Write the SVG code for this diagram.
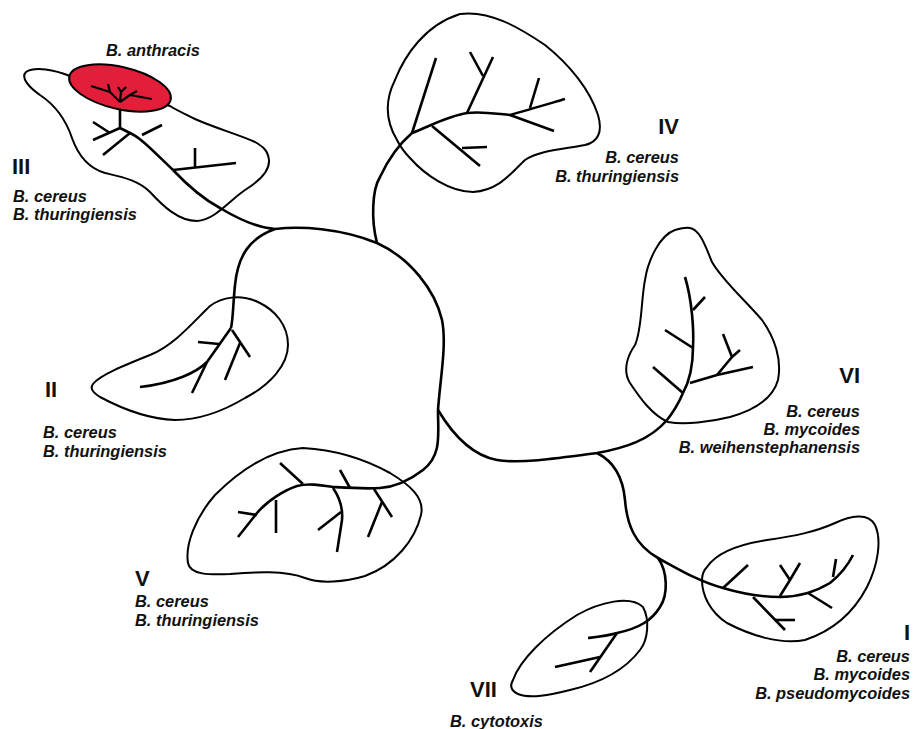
<svg xmlns="http://www.w3.org/2000/svg" width="914" height="729" viewBox="0 0 914 729">
<style>
.ol{fill:none;stroke:#000;stroke-width:2;stroke-linejoin:round}
.tr{fill:none;stroke:#000;stroke-width:2.6;stroke-linecap:butt;stroke-linejoin:round}
.sp{font-family:"Liberation Sans",Arial,sans-serif;font-weight:bold;font-style:italic;font-size:16.4px;fill:#111}
.num{font-family:"Liberation Sans",Arial,sans-serif;font-weight:bold;font-size:22px;fill:#111}
</style>
<rect width="914" height="729" fill="#fff"/>
<g id="connectors" class="tr">
<path d="M173,170 C190,188 205,200 220,208 C240,220 258,228 275,229"/>
<path d="M275,229 C250,238 238,255 235,285 C233,305 233,320 231,328"/>
<path d="M275,229 C300,226 340,228 377,243 C410,258 435,290 442,320 C447,345 440,380 438,410 C438,435 442,455 423,470 C410,480 395,487 380,488"/>
<path d="M377,243 C371,220 372,190 380,177 C387,162 398,145 412,133"/>
<path d="M438,410 C450,430 470,455 497,460 C520,464 560,458 597,453 C625,448 650,440 667,420 C675,410 680,400 683,393"/>
<path d="M597,453 C615,462 623,478 625,500 C627,525 635,545 658,558 C680,570 700,582 723,588"/>
<path d="M658,558 C668,572 668,595 660,607 C652,620 640,628 617,633"/>
</g>
<g id="cluster-III">
<path class="ol" d="M70,76 C55,70 35,66 26,72 C20,78 30,88 40,95 C55,105 66,120 72,138 C78,155 88,168 105,173 C122,177 138,180 150,192 C162,205 178,221 197,221 C215,220 230,200 245,190 C258,182 270,172 269,160 C268,150 262,146 255,142 C240,135 215,128 195,119 C185,114 178,111 170,106 Z"/>
<g class="tr">
<path d="M120,102 L120,128 L128,132 C140,137 150,148 173,170"/>
<path d="M93,140 L120,128"/>
<path d="M93,122 L110,133"/>
<path d="M103,155 L130,133"/>
<path d="M142,135 L162,125"/>
<path d="M173,170 L236,163"/>
<path d="M195,148 L195,167"/>
</g>
<g id="anthracis">
<ellipse cx="120" cy="88" rx="52" ry="21" transform="rotate(13 120 88)" fill="#e31e3a" stroke="#000" stroke-width="2"/>
<g class="tr" style="stroke-width:2.2">
<path d="M120,102 L110,92 L91,86"/>
<path d="M108,84 L110,92"/>
<path d="M120,102 L121,92 L118,87"/>
<path d="M121,92 L126,87"/>
<path d="M120,102 L130,95 L152,99"/>
<path d="M130,95 L137,91"/>
</g>
</g>
<text class="sp" x="106" y="56">B. anthracis</text>
<text class="num" x="12" y="174">III</text>
<text class="sp" x="13" y="202">B. cereus</text>
<text class="sp" x="13" y="220">B. thuringiensis</text>
</g>
<g id="cluster-IV">
<path class="ol" d="M397,140 C385,120 385,100 395,80 C405,55 425,25 460,14 C490,10 520,28 545,45 C570,65 590,90 598,115 C603,132 598,142 585,145 C565,149 540,150 525,160 C512,172 500,190 473,192 C450,192 425,175 410,158 C404,152 400,146 397,140 Z"/>
<g class="tr">
<path d="M412,133 C430,126 448,116 467,113 C482,111 498,114 510,115 C528,110 548,104 565,99"/>
<path d="M412,133 L436,58"/>
<path d="M432,126 L480,166"/>
<path d="M462,148 L487,147"/>
<path d="M467,113 L493,57"/>
<path d="M483,76 L470,52"/>
<path d="M510,115 L554,131"/>
<path d="M530,108 L539,78"/>
</g>
<text class="num" x="679" y="134" text-anchor="end">IV</text>
<text class="sp" x="679" y="163" text-anchor="end">B. cereus</text>
<text class="sp" x="679" y="182" text-anchor="end">B. thuringiensis</text>
</g>
<g id="cluster-II">
<path class="ol" d="M93,384 C100,375 125,365 150,355 C175,345 195,320 210,306 C222,297 240,294 258,302 C275,310 288,325 288,345 C288,365 270,385 245,398 C225,410 200,420 175,420 C145,419 115,405 100,397 C92,392 90,388 93,384 Z"/>
<g class="tr">
<path d="M231,328 L207,362 C197,372 175,383 140,387"/>
<path d="M198,342 L219,344"/>
<path d="M207,362 L192,393"/>
<path d="M232,330 L250,357"/>
<path d="M240,343 L225,380"/>
</g>
<text class="num" x="45" y="397">II</text>
<text class="sp" x="43" y="438">B. cereus</text>
<text class="sp" x="43" y="457">B. thuringiensis</text>
</g>
<g id="cluster-V">
<path class="ol" d="M303,448 C270,450 240,470 215,495 C195,518 185,545 188,563 C190,575 210,575 230,574 C255,572 285,570 305,578 C320,584 345,582 365,576 C395,565 415,540 421,515 C425,498 410,485 390,473 C370,462 340,450 303,448 Z"/>
<g class="tr">
<path d="M380,488 C365,489 350,488 333,487 C320,485 308,483 297,486 C285,490 268,500 257,513 L238,537"/>
<path d="M280,463 L303,484"/>
<path d="M340,470 L350,488"/>
<path d="M374,489 L392,517"/>
<path d="M382,502 L368,537"/>
<path d="M333,488 C340,498 343,508 342,520 L337,552"/>
<path d="M318,530 L341,512"/>
<path d="M276,500 L276,533"/>
<path d="M238,512 L257,515"/>
</g>
<text class="num" x="135" y="586">V</text>
<text class="sp" x="135" y="607">B. cereus</text>
<text class="sp" x="135" y="626">B. thuringiensis</text>
</g>
<g id="cluster-VI">
<path class="ol" d="M690,228 C700,230 705,245 712,262 C722,280 745,300 762,320 C775,338 782,360 778,380 C773,398 755,410 730,417 C710,422 685,425 668,422 C652,415 640,398 630,383 C622,370 628,355 635,345 C642,330 641,300 645,280 C648,260 660,235 675,230 C682,228 686,227 690,228 Z"/>
<g class="tr">
<path d="M683,393 C690,380 693,365 693,347 C694,330 692,300 685,277"/>
<path d="M693,310 L705,297"/>
<path d="M665,330 L693,348"/>
<path d="M653,367 L683,393"/>
<path d="M690,383 L717,375 L753,367"/>
<path d="M717,375 L732,357 L740,350"/>
<path d="M732,357 L723,334"/>
</g>
<text class="num" x="860" y="383" text-anchor="end">VI</text>
<text class="sp" x="860" y="417" text-anchor="end">B. cereus</text>
<text class="sp" x="860" y="435" text-anchor="end">B. mycoides</text>
<text class="sp" x="860" y="453" text-anchor="end">B. weihenstephanensis</text>
</g>
<g id="cluster-I">
<path class="ol" d="M707,567 C715,555 735,545 767,540 C795,536 815,532 835,523 C850,516 868,512 875,525 C882,540 878,565 867,587 C855,610 835,630 805,640 C780,645 750,635 727,623 C710,612 702,595 702,580 C702,574 704,570 707,567 Z"/>
<g class="tr">
<path d="M723,588 C740,593 760,597 780,597 C800,597 815,592 830,583 C840,575 848,565 853,555"/>
<path d="M723,588 L748,565"/>
<path d="M780,596 L790,580 L800,563"/>
<path d="M790,580 L780,565"/>
<path d="M808,593 L832,608"/>
<path d="M833,577 L836,559"/>
<path d="M753,597 L785,630"/>
<path d="M775,620 L795,620"/>
</g>
<text class="num" x="910" y="640" text-anchor="end">I</text>
<text class="sp" x="910" y="662" text-anchor="end">B. cereus</text>
<text class="sp" x="910" y="680" text-anchor="end">B. mycoides</text>
<text class="sp" x="910" y="699" text-anchor="end">B. pseudomycoides</text>
</g>
<g id="cluster-VII">
<path class="ol" d="M513,680 C520,660 545,635 577,615 C600,602 630,595 643,607 C650,620 648,640 640,650 C625,670 600,683 570,690 C550,695 530,699 518,694 C510,690 510,685 513,680 Z"/>
<g class="tr">
<path d="M617,633 C607,636 597,637 588,638"/>
<path d="M617,633 L590,672"/>
<path d="M600,657 L555,667"/>
</g>
<text class="num" x="470" y="697">VII</text>
<text class="sp" x="450" y="727">B. cytotoxis</text>
</g>
</svg>
